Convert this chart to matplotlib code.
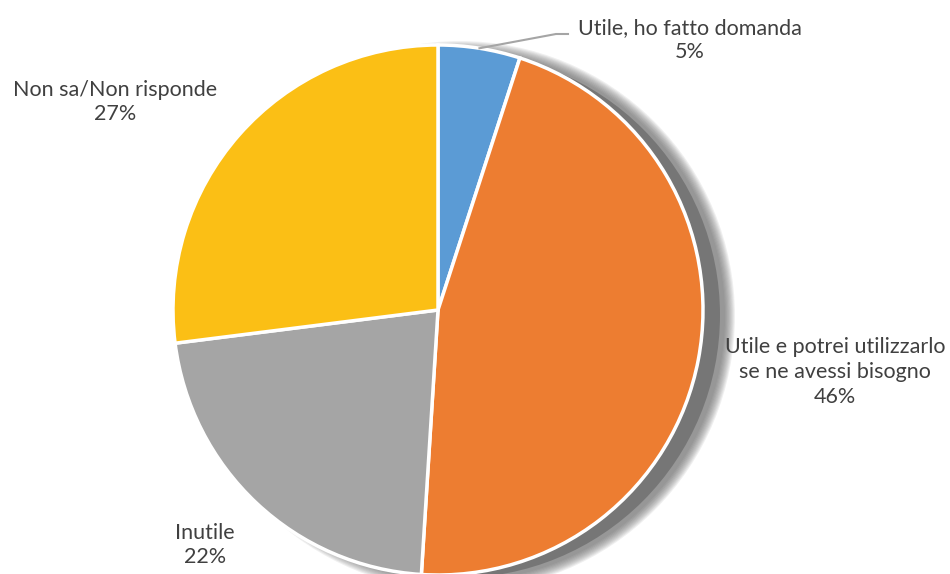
import numpy as np
import matplotlib.pyplot as plt
from matplotlib.patches import Circle

labels = ["Utile, ho fatto domanda", "Utile e potrei utilizzarlo\nse ne avessi bisogno", "Inutile", "Non sa/Non risponde"]
values = [5, 46, 22, 27]
colors = ["#5B9BD5", "#ED7D31", "#A5A5A5", "#FBBF15"]

plt.rcParams['font.family'] = ['Lato', 'DejaVu Sans']

fig = plt.figure(figsize=(9.5, 5.74), dpi=100)
ax = fig.add_axes([0, 0, 1, 1])

cx, cy, r = 438, 574 - 310, 265

# soft shadow to the right
for i in range(10):
    ax.add_patch(Circle((cx + 22, cy - 6), r + i * 1.1, color="#666666",
                        alpha=0.1, lw=0, zorder=0))
ax.add_patch(Circle((cx + 19, cy - 5), r - 2, color="#6e6e6e", alpha=0.8, lw=0, zorder=0))

wedges, _ = ax.pie(values, colors=colors, startangle=90, counterclock=False,
                   center=(cx, cy), radius=r,
                   wedgeprops=dict(edgecolor="white", linewidth=2.5))
for w in wedges:
    w.set_zorder(2)

# label positions (pixel centres)
pos = [(690, 40), (835, 372), (205, 545), (115, 102)]
for lab, v, (x, y) in zip(labels, values, pos):
    ax.text(x, 574 - y, f"{lab}\n{v}%", ha="center", va="center", fontsize=15.5,
            color="#404040", linespacing=1.3, zorder=3)

# leader line for the small slice
w0 = wedges[0]
ang = np.deg2rad((w0.theta1 + w0.theta2) / 2)
px, py = cx + r * np.cos(ang), cy + r * np.sin(ang)
ax.plot([px, 556, 568], [py, 574 - 34, 574 - 34], color="#A5A5A5", lw=1.5, zorder=3)

ax.set_xlim(0, 950)
ax.set_ylim(0, 574)
ax.set_aspect("equal")
ax.axis("off")

fig.savefig("out.png", dpi=100)
